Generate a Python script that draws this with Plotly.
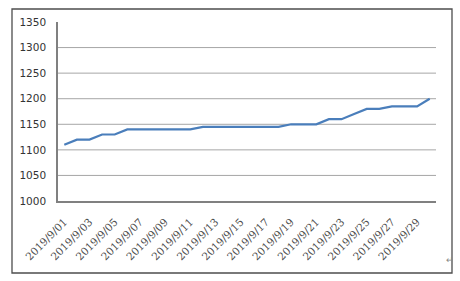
import plotly.graph_objects as go

days = [f"2019/9/{d:02d}" for d in range(1, 31)]
values = [1110, 1120, 1120, 1130, 1130, 1140, 1140, 1140, 1140, 1140,
          1140, 1145, 1145, 1145, 1145, 1145, 1145, 1145, 1150, 1150,
          1150, 1160, 1160, 1170, 1180, 1180, 1185, 1185, 1185, 1200]
tick_labels = days[::2]
y_ticks = [1000, 1050, 1100, 1150, 1200, 1250, 1300, 1350]

W, H = 460, 281
L, R, T, B = 58, 24, 22, 80
pw, ph = W - L - R, H - T - B

def px(x):
    return (x - L) / pw

def py(y):
    return (H - B - y) / ph

fig = go.Figure()
fig.add_trace(go.Scatter(x=days, y=values, mode="lines",
                         line=dict(color="#4A7EBB", width=2.2), showlegend=False))

shapes = []
for v in y_ticks[1:-1]:
    shapes.append(dict(type="line", xref="paper", yref="y", x0=0, x1=1, y0=v, y1=v,
                       line=dict(color="#A6A6A6", width=1), layer="below"))
shapes.append(dict(type="rect", xref="paper", yref="paper",
                   x0=px(12), x1=px(452), y0=py(273), y1=py(9),
                   line=dict(color="#4D4D4D", width=1.3)))

fig.update_layout(
    width=W, height=H,
    margin=dict(l=L, r=R, t=T, b=B),
    paper_bgcolor="white", plot_bgcolor="white",
    shapes=shapes,
    annotations=[dict(text="↵", xref="paper", yref="paper", x=px(456), y=py(268),
                      showarrow=False, font=dict(size=9, color="#888"))],
    xaxis=dict(type="category", tickmode="array", tickvals=tick_labels, ticktext=tick_labels,
               tickangle=-45, showgrid=False, showline=True, linecolor="#808080", linewidth=1.5,
               ticks="", ticklabelstandoff=9,
               tickfont=dict(family="DejaVu Serif", size=10.5, color="#4a4a4a"),
               range=[-0.5, len(days) - 0.5]),
    yaxis=dict(range=[1000, 1350], tickvals=y_ticks, showgrid=False, showline=True,
               linecolor="#808080", linewidth=1.5, ticks="", ticklabelstandoff=8,
               tickfont=dict(family="DejaVu Sans", size=10.5, color="#333")),
)

fig.write_html("out.html")
